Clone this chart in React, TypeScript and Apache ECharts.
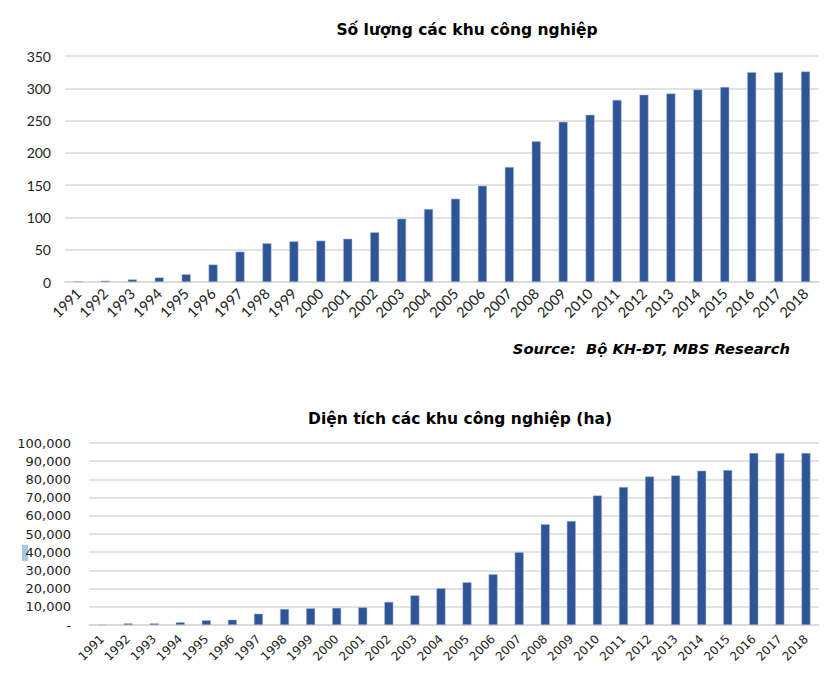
import React, { useEffect, useRef } from "react";
import * as echarts from "echarts";

const years = [
  "1991", "1992", "1993", "1994", "1995", "1996", "1997", "1998", "1999", "2000",
  "2001", "2002", "2003", "2004", "2005", "2006", "2007", "2008", "2009", "2010",
  "2011", "2012", "2013", "2014", "2015", "2016", "2017", "2018",
];

const parkCounts = [
  1, 2, 4, 7, 12, 27, 47, 60, 63, 64,
  67, 77, 98, 113, 129, 149, 178, 218, 248, 259,
  282, 290, 292, 298, 302, 325, 325, 326,
];

const parkAreaHa = [
  0, 900, 900, 1500, 2600, 2900, 6200, 8800, 9200, 9400,
  9700, 12700, 16300, 20200, 23500, 27900, 40000, 55400, 57100, 71200,
  75800, 81600, 82200, 84800, 85100, 94500, 94500, 94500,
];

const topTitle = "Số lượng các khu công nghiệp";
const bottomTitle = "Diện tích các khu công nghiệp (ha)";
const sourceText = "Source:  Bộ KH-ĐT, MBS Research";

const BAR = "#2f5597";
const GRID = "#d9d9d9";
const LABEL = "#222222";

export default function App() {
  const ref = useRef<HTMLDivElement>(null);
  useEffect(() => {
    if (!ref.current) return;
    const chart = echarts.init(ref.current, undefined, { renderer: "svg" });
    const topFont = "Lato, 'Liberation Sans', sans-serif";
    const botFont = "'DejaVu Sans', sans-serif";
    chart.setOption({
      animation: false,
      backgroundColor: "#ffffff",
      title: [
        {
          text: topTitle,
          left: 462,
          top: 17,
          textAlign: "center",
          textStyle: { fontFamily: botFont, fontSize: 15.5, fontWeight: "bold", color: "#000" },
        },
        {
          text: bottomTitle,
          left: 455,
          top: 406,
          textAlign: "center",
          textStyle: { fontFamily: botFont, fontSize: 15.5, fontWeight: "bold", color: "#000" },
        },
      ],
      grid: [
        { left: 65, right: 12, top: 56, height: 226, containLabel: false },
        { left: 89, right: 12, top: 443, height: 182, containLabel: false },
      ],
      xAxis: [
        {
          type: "category",
          gridIndex: 0,
          data: years,
          axisLine: { lineStyle: { color: GRID, width: 1.5 } },
          axisTick: { show: false },
          axisLabel: {
            rotate: 45,
            interval: 0,
            margin: 9,
            fontFamily: topFont,
            fontSize: 14.5,
            color: LABEL,
          },
        },
        {
          type: "category",
          gridIndex: 1,
          data: years,
          axisLine: { lineStyle: { color: GRID, width: 1.5 } },
          axisTick: { show: false },
          axisLabel: {
            rotate: 45,
            interval: 0,
            margin: 12,
            fontFamily: botFont,
            fontSize: 12,
            color: LABEL,
          },
        },
      ],
      yAxis: [
        {
          type: "value",
          gridIndex: 0,
          min: 0,
          max: 350,
          interval: 50,
          axisLine: { show: false },
          axisTick: { show: false },
          splitLine: { lineStyle: { color: GRID, width: 1.5 } },
          axisLabel: { fontFamily: topFont, fontSize: 14, color: LABEL, margin: 14 },
        },
        {
          type: "value",
          gridIndex: 1,
          min: 0,
          max: 100000,
          interval: 10000,
          axisLine: { show: false },
          axisTick: { show: false },
          splitLine: { lineStyle: { color: GRID, width: 1.5 } },
          axisLabel: {
            fontFamily: botFont,
            fontSize: 13,
            color: LABEL,
            margin: 18,
            formatter: (v: number) => (v === 0 ? "-" : v.toLocaleString("en-US")),
          },
        },
      ],
      series: [
        {
          type: "bar",
          xAxisIndex: 0,
          yAxisIndex: 0,
          data: parkCounts,
          barWidth: 9,
          itemStyle: { color: BAR, borderColor: "#a9bde0", borderWidth: 0.5 },
        },
        {
          type: "bar",
          xAxisIndex: 1,
          yAxisIndex: 1,
          data: parkAreaHa,
          barWidth: 9,
          itemStyle: { color: BAR, borderColor: "#a9bde0", borderWidth: 0.5 },
        },
      ],
      graphic: [
        {
          type: "text",
          right: 41,
          top: 341,
          style: {
            text: sourceText,
            font: "italic bold 14.7px 'DejaVu Sans', sans-serif",
            fill: "#000",
          },
        },
        {
          type: "rect",
          left: 22,
          top: 545,
          shape: { width: 6, height: 16 },
          style: { fill: "#a6c9df" },
        },
      ],
    });
    return () => chart.dispose();
  }, []);
  return (
    <div
      ref={ref}
      style={{ position: "fixed", left: 0, top: 0, width: 831, height: 678 }}
    />
  );
}
